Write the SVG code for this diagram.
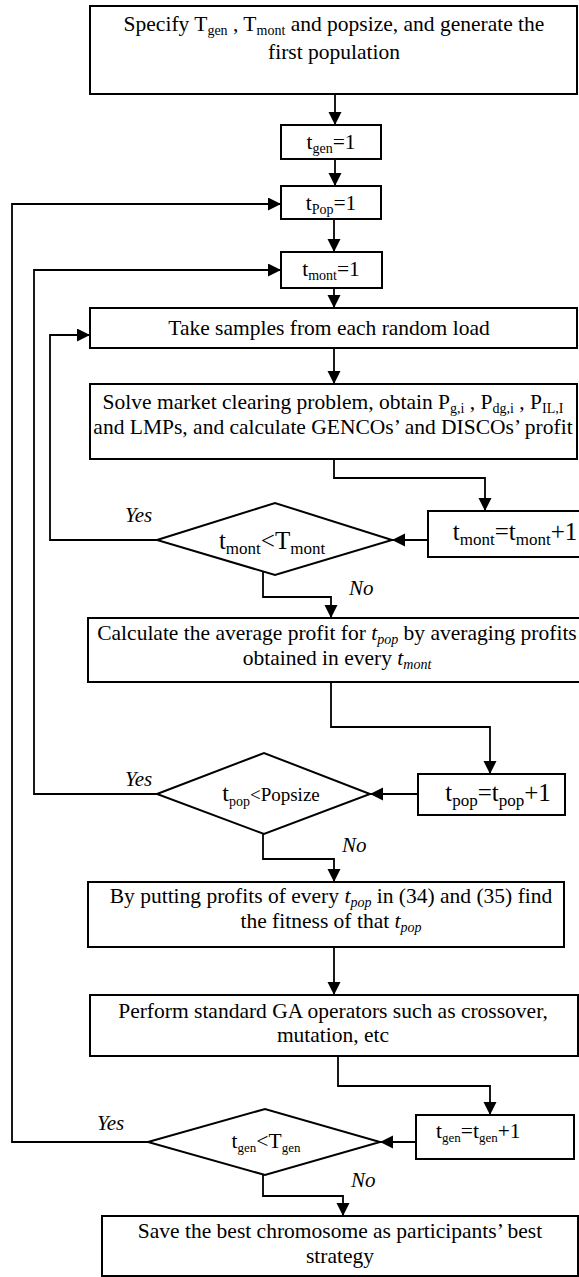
<svg xmlns="http://www.w3.org/2000/svg" width="579" height="1277" viewBox="0 0 579 1277" font-family="'Liberation Serif', 'Tinos', 'Times New Roman', 'DejaVu Serif', serif">
<style>
.box{fill:#fff;stroke:#000;stroke-width:2}
.ln{fill:none;stroke:#000;stroke-width:1.8}
text{font-family:'Liberation Serif', 'Tinos', 'Times New Roman', 'DejaVu Serif', serif;font-size:21.5px;fill:#000}
.c{text-anchor:middle}
.s{font-size:14px}
.big{font-size:25px}
.big .s{font-size:17px}
.lbl{font-style:italic;font-size:21px}
.i{font-style:italic}
</style>
<defs>
<marker id="ah" markerUnits="userSpaceOnUse" markerWidth="14" markerHeight="14" refX="13" refY="6.5" orient="auto">
<path d="M0,0 L13,6.5 L0,13 z" fill="#000"/>
</marker>
</defs>
<rect width="579" height="1277" fill="#fff"/>
<g id="connectors">
<path class="ln" marker-end="url(#ah)" d="M335,94 V125"/>
<path class="ln" marker-end="url(#ah)" d="M335,159 V186"/>
<path class="ln" marker-end="url(#ah)" d="M334,219 V252"/>
<path class="ln" marker-end="url(#ah)" d="M334,288 V308"/>
<path class="ln" marker-end="url(#ah)" d="M334,348 V384"/>
<path class="ln" marker-end="url(#ah)" d="M334,459 V478 H485 V511"/>
<path class="ln" marker-end="url(#ah)" d="M428,540 H392"/>
<path class="ln" marker-end="url(#ah)" d="M157,540 H50 V335 H90"/>
<path class="ln" marker-end="url(#ah)" d="M263,572 V597 H331 V618"/>
<path class="ln" marker-end="url(#ah)" d="M331,682 V727 H490 V774"/>
<path class="ln" marker-end="url(#ah)" d="M418,794 H370"/>
<path class="ln" marker-end="url(#ah)" d="M157,794 H34 V270 H281"/>
<path class="ln" marker-end="url(#ah)" d="M263,831 V859 H334 V882"/>
<path class="ln" marker-end="url(#ah)" d="M334,947 V995"/>
<path class="ln" marker-end="url(#ah)" d="M338,1056 V1086 H490 V1115"/>
<path class="ln" marker-end="url(#ah)" d="M416,1142 H380"/>
<path class="ln" marker-end="url(#ah)" d="M148,1142 H12 V204 H281"/>
<path class="ln" marker-end="url(#ah)" d="M263,1173 V1196 H343 V1216"/>
</g>
<g id="start">
<rect class="box" x="90" y="6" width="487" height="88"/>
<text class="c" x="334" y="31">Specify T<tspan class="s" dy="4">gen</tspan><tspan dy="-4"> , T</tspan><tspan class="s" dy="4">mont</tspan><tspan dy="-4"> and popsize, and generate the</tspan></text>
<text class="c" x="334" y="59">first population</text>
</g>
<g id="tgen1">
<rect class="box" x="281" y="125" width="100" height="34"/>
<text class="c" x="331" y="149">t<tspan class="s" dy="4">gen</tspan><tspan dy="-4">=1</tspan></text>
</g>
<g id="tpop1">
<rect class="box" x="281" y="186" width="100" height="33"/>
<text class="c" x="331" y="210">t<tspan class="s" dy="4">Pop</tspan><tspan dy="-4">=1</tspan></text>
</g>
<g id="tmont1">
<rect class="box" x="281" y="252" width="101" height="36"/>
<text class="c" x="331" y="276">t<tspan class="s" dy="4">mont</tspan><tspan dy="-4">=1</tspan></text>
</g>
<g id="samples">
<rect class="box" x="90" y="308" width="487" height="40"/>
<text class="c" x="329" y="335">Take samples from each random load</text>
</g>
<g id="solve">
<rect class="box" x="90" y="384" width="487" height="75"/>
<text class="c" x="333" y="409">Solve market clearing problem, obtain P<tspan class="s" dy="4">g,i</tspan><tspan dy="-4"> , P</tspan><tspan class="s" dy="4">dg,i</tspan><tspan dy="-4"> , P</tspan><tspan class="s" dy="4">IL,I</tspan></text>
<text class="c" x="333" y="434">and LMPs, and calculate GENCOs’ and DISCOs’ profit</text>
</g>
<g id="tmontinc">
<rect class="box" x="428" y="511" width="152" height="46"/>
<text class="c big" x="515" y="540">t<tspan class="s" dy="5">mont</tspan><tspan dy="-5">=t</tspan><tspan class="s" dy="5">mont</tspan><tspan dy="-5">+1</tspan></text>
</g>
<g id="dec-mont">
<polygon class="box" points="157,540 275,503 392,540 275,575"/>
<text class="c big" x="272" y="549">t<tspan class="s" dy="5">mont</tspan><tspan dy="-5">&lt;T</tspan><tspan class="s" dy="5">mont</tspan></text>
<text class="lbl" x="125" y="522">Yes</text>
<text class="lbl" x="349" y="595">No</text>
</g>
<g id="average">
<rect class="box" x="88" y="618" width="492" height="64"/>
<text class="c" x="337" y="640">Calculate the average profit for <tspan class="i">t</tspan><tspan class="s i" dy="4">pop</tspan><tspan dy="-4"> by averaging profits</tspan></text>
<text class="c" x="337" y="665">obtained in every <tspan class="i">t</tspan><tspan class="s i" dy="4">mont</tspan></text>
</g>
<g id="tpopinc">
<rect class="box" x="418" y="774" width="147" height="41"/>
<text class="c big" x="498" y="801">t<tspan class="s" dy="5">pop</tspan><tspan dy="-5">=t</tspan><tspan class="s" dy="5">pop</tspan><tspan dy="-5">+1</tspan></text>
</g>
<g id="dec-pop">
<polygon class="box" points="157,794 264,753 370,794 264,834"/>
<text class="c" x="271" y="801"><tspan font-size="24">t</tspan><tspan class="s" font-size="16" dy="5">pop</tspan><tspan font-size="19" dy="-5">&lt;Popsize</tspan></text>
<text class="lbl" x="125" y="786">Yes</text>
<text class="lbl" x="342" y="852">No</text>
</g>
<g id="fitness">
<rect class="box" x="88" y="882" width="476" height="65"/>
<text class="c" x="331" y="903">By putting profits of every <tspan class="i">t</tspan><tspan class="s i" dy="4">pop</tspan><tspan dy="-4"> in (34) and (35) find</tspan></text>
<text class="c" x="331" y="928">the fitness of that <tspan class="i">t</tspan><tspan class="s i" dy="4">pop</tspan></text>
</g>
<g id="ga">
<rect class="box" x="90" y="995" width="488" height="61"/>
<text class="c" x="333" y="1018">Perform standard GA operators such as crossover,</text>
<text class="c" x="333" y="1042">mutation, etc</text>
</g>
<g id="tgeninc">
<rect class="box" x="416" y="1115" width="158" height="44"/>
<text x="436" y="1138" font-size="19">t<tspan font-size="13" dy="4">gen</tspan><tspan dy="-4">=t</tspan><tspan font-size="13" dy="4">gen</tspan><tspan dy="-4">+1</tspan></text>
</g>
<g id="dec-gen">
<polygon class="box" points="148,1142 265,1109 380,1142 265,1175"/>
<text class="c" x="266" y="1148" font-size="20">t<tspan font-size="13" dy="4">gen</tspan><tspan dy="-4">&lt;T</tspan><tspan font-size="13" dy="4">gen</tspan></text>
<text class="lbl" x="97" y="1130">Yes</text>
<text class="lbl" x="351" y="1187">No</text>
</g>
<g id="save">
<rect class="box" x="102" y="1216" width="476" height="60"/>
<text class="c" x="340" y="1238">Save the best chromosome as participants’ best</text>
<text class="c" x="340" y="1263">strategy</text>
</g>
</svg>
